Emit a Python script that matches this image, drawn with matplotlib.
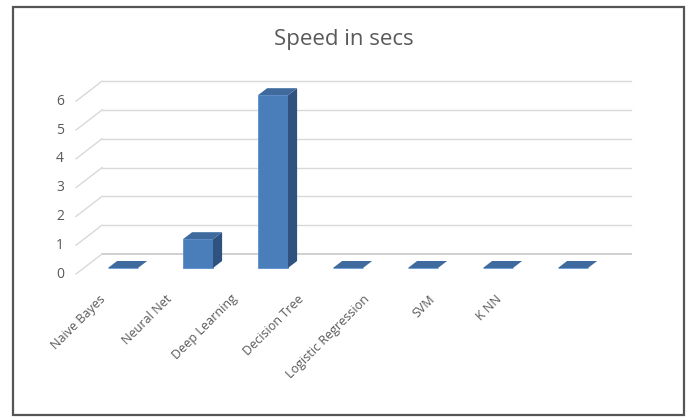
import numpy as np
import matplotlib.pyplot as plt
from matplotlib.patches import Polygon, Rectangle

models = ['Naive Bayes', 'Neural Net', 'Deep Learning', 'Decision Tree',
          'Logistic Regression', 'SVM', 'K NN']
speed = [0, 1, 6, 0, 0, 0, 0]
yticks = [0, 1, 2, 3, 4, 5, 6]

plt.rcParams['font.family'] = ['Open Sans', 'DejaVu Sans']
txt = '#595959'
front = '#4a7ebb'
side = '#30527f'
top = '#3e6a9e'
grid = '#d9d9d9'

fig = plt.figure(figsize=(6.9, 4.18), dpi=100)
fig.patch.set_facecolor('white')

# chart border
fig.add_artist(Rectangle((12.5 / 690, 1 - 415 / 418), 671 / 690, 408 / 418,
                         transform=fig.transFigure, fill=False,
                         edgecolor='#555555', linewidth=1.6))

# axes placed so that one category = 75 px and one unit = 28.8 px
x0px, y0px = 123, 268
ax = fig.add_axes([0, 0, 1, 1])
ax.set_xlim(-x0px / 75, (690 - x0px) / 75)
ax.set_ylim(-(418 - y0px) / 28.8, y0px / 28.8)
ax.axis('off')

# depth vector (one full depth of the plot box) in data units
ddx, ddy = 26 / 75, 20 / 28.8
wall = 0.7      # back wall depth relative to bar front
lab = -0.3      # front edge relative to bar front
bdep = 0.35     # bar depth
wl, wr = -0.28, 6.77   # back wall extent

for v in yticks:
    col = '#d0d0d0' if v == 0 else grid
    lw = 1.4 if v == 0 else 1.0
    ax.plot([wl, wr], [v + wall * ddy, v + wall * ddy], color=col, lw=lw, zorder=1)
    ax.plot([wl - (wall - lab) * ddx, wl], [v + lab * ddy, v + wall * ddy],
            color=grid, lw=1.0, zorder=1)
    ax.text(wl - (wall - lab) * ddx - 0.16, v + lab * ddy, str(v),
            ha='right', va='center', fontsize=10, color=txt)

# bars: front face from the library, side and top as offset polygons
w = 0.4
x = np.arange(len(models))
ax.bar(x, speed, width=w, color=front, edgecolor='#5a8fcf', linewidth=0.6, zorder=3)
ox, oy = bdep * ddx, bdep * ddy
for xi, v in zip(x, speed):
    l, r = xi - w / 2, xi + w / 2
    ax.add_patch(Polygon([(r, 0), (r + ox, oy), (r + ox, v + oy), (r, v)],
                         closed=True, facecolor=side, edgecolor='none', zorder=3))
    ax.add_patch(Polygon([(l, v), (l + ox, v + oy), (r + ox, v + oy), (r, v)],
                         closed=True, facecolor=top, edgecolor='none', zorder=3))

# category labels along the front edge
for i, name in enumerate(models):
    ax.text(-0.26 + 0.88 * i, lab * ddy - 0.8, name, rotation=45,
            rotation_mode='anchor', ha='right', va='center',
            fontsize=9, color=txt)

ax.text(344 / 75 - x0px / 75, (y0px - 40) / 28.8, 'Speed in secs',
        ha='center', va='center', fontsize=16, color=txt)

fig.savefig('out.png', dpi=100)
